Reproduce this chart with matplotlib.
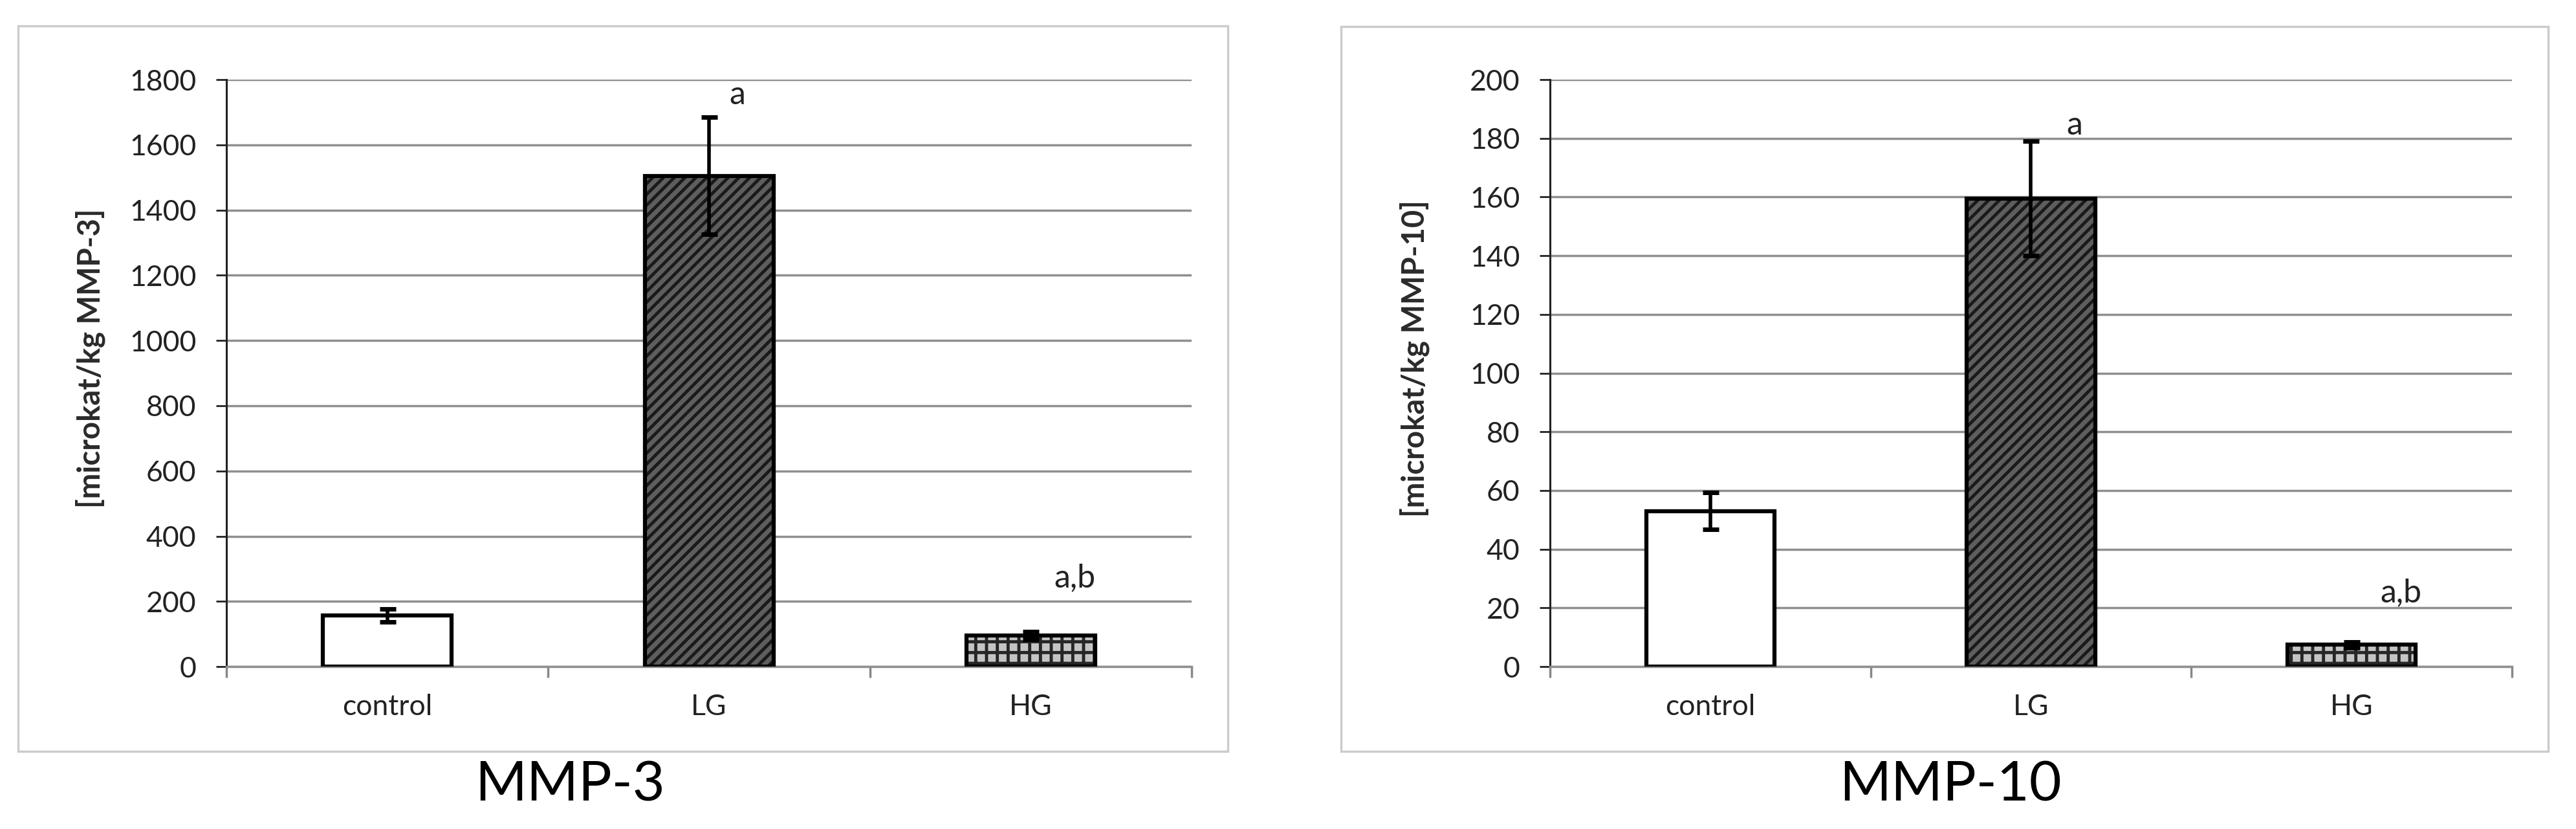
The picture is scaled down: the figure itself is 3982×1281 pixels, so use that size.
import matplotlib.pyplot as plt
import matplotlib.patches as mpatches
from matplotlib.ticker import MultipleLocator, FixedLocator

plt.rcParams['font.family'] = ['Lato', 'DejaVu Sans']
plt.rcParams['hatch.linewidth'] = 3.5

groups = ['control', 'LG', 'HG']

mmp3_mean = [157, 1505, 95]
mmp3_err = [20, 180, 12]
mmp3_marks = ['', 'a', 'a,b']

mmp10_mean = [53, 159.5, 7.5]
mmp10_err = [6.3, 19.5, 1.0]
mmp10_marks = ['', 'a', 'a,b']

fills = ['white', '#5e5e5e', '#c4c4c4']
hatches = [None, '//', '+']
hatch_colors = ['white', '#1a1a1a', '#262626']

fig = plt.figure(figsize=(39.82, 12.81), dpi=100)


def panel(ax_rect, frame_rect, means, errs, marks, ymax, ystep,
          ylabel, title, title_x, mark_pos):
    # light grey box round each chart
    fig.patches.append(mpatches.Rectangle(
        frame_rect[:2], frame_rect[2], frame_rect[3], transform=fig.transFigure,
        fill=False, edgecolor='#cccccc', linewidth=2.5, zorder=0))

    ax = fig.add_axes(ax_rect)
    x = range(len(groups))
    # hatched fill first, black outline and error bars on top
    for i in x:
        ax.bar(i, means[i], width=0.40, color=fills[i], hatch=hatches[i],
               edgecolor=hatch_colors[i], linewidth=0, zorder=2)
    ax.bar(x, means, width=0.40, fill=False, edgecolor='black', linewidth=4.5,
           yerr=errs, capsize=9,
           error_kw=dict(elinewidth=4, capthick=5, ecolor='black'), zorder=3)

    for i, m in enumerate(marks):
        if m:
            ax.text(i + mark_pos[i][0], mark_pos[i][1], m, fontsize=36,
                    ha='center', va='center', color='#222222')

    ax.set_xlim(-0.5, 2.5)
    ax.set_ylim(0, ymax)
    ax.yaxis.set_major_locator(MultipleLocator(ystep))
    ax.set_xticks(list(x))
    ax.set_xticklabels(groups)
    ax.xaxis.set_minor_locator(FixedLocator([-0.5, 0.5, 1.5, 2.5]))
    ax.tick_params(axis='x', which='major', length=0, pad=30, labelsize=32,
                   labelcolor='#222222')
    ax.tick_params(axis='x', which='minor', length=12, width=2.5,
                   color='#888888', direction='out')
    ax.tick_params(axis='y', length=11.5, width=2, color='#222222', pad=22,
                   labelsize=32, labelcolor='#222222')

    ax.grid(axis='y', color='#8f8f8f', linewidth=2.5)
    ax.set_axisbelow(True)
    for s in ['top', 'right']:
        ax.spines[s].set_visible(False)
    ax.spines['left'].set_color('#222222')
    ax.spines['left'].set_linewidth(2.2)
    ax.spines['bottom'].set_color('#8f8f8f')
    ax.spines['bottom'].set_linewidth(2.5)

    ax.set_ylabel(ylabel, fontsize=34, fontweight='bold', color='#2a2a2a',
                  va='center')
    ax.yaxis.set_label_coords(-0.141, 0.525)

    fig.text(title_x, 0.053, title, fontsize=62, ha='center', va='center',
             color='black')
    return ax


panel([0.0879, 0.1959, 0.3747, 0.708], [0.00703, 0.0937, 0.4696, 0.8751],
      mmp3_mean, mmp3_err, mmp3_marks, 1800, 200,
      '[microkat/kg MMP-3]', 'MMP-3', 881 / 3982,
      [(0, 0), (0.087, 1752), (0.136, 272)])

panel([0.6017, 0.1959, 0.3734, 0.708], [0.5206, 0.0937, 0.4686, 0.8743],
      mmp10_mean, mmp10_err, mmp10_marks, 200, 20,
      '[microkat/kg MMP-10]', 'MMP-10', 3015 / 3982,
      [(0, 0), (0.135, 184.4), (0.155, 25.2)])

fig.savefig('out.png', dpi=100, facecolor='white')
